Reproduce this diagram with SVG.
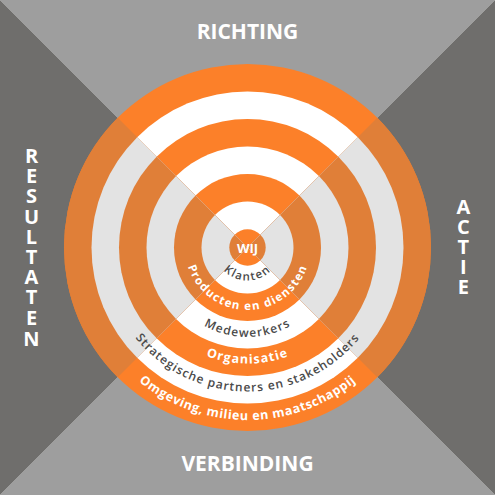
<svg xmlns="http://www.w3.org/2000/svg" width="495" height="495" viewBox="0 0 495 495">
<style>
.tb{fill:#9e9e9e}
.lr{fill:#6f6e6c}
.o{fill:#fc8029}
.w{fill:#ffffff}
.od{fill:#e07f38}
.wd{fill:#e3e3e3}
.big{font-family:'Open Sans','Liberation Sans',sans-serif;font-weight:700;fill:#ffffff;font-size:21px;text-anchor:middle}
.vert{font-family:'Open Sans','Liberation Sans',sans-serif;font-weight:700;fill:#ffffff;font-size:20px;text-anchor:middle}
.dk{font-family:'Open Sans','Liberation Sans',sans-serif;font-weight:600;fill:#4a4a4a;font-size:12px;letter-spacing:1.1px}
.wt{font-family:'Open Sans','Liberation Sans',sans-serif;font-weight:700;fill:#ffffff;font-size:12px;letter-spacing:1.1px}
</style>
<defs>
<clipPath id="clipLR">
<polygon points="0,0 247.5,247.5 0,495"/>
<polygon points="495,0 247.5,247.5 495,495"/>
</clipPath>
<path id="p1" d="M214.5,247.5 A33,33 0 0 0 280.5,247.5"/>
<path id="p2" d="M185,247.5 A62.5,62.5 0 0 0 310,247.5"/>
<path id="p3" d="M158,247.5 A89.5,89.5 0 0 0 337,247.5"/>
<path id="p4" d="M131.5,247.5 A116,116 0 0 0 363.5,247.5"/>
<path id="p5" d="M103.5,247.5 A144,144 0 0 0 391.5,247.5"/>
<path id="p6" d="M75,247.5 A172.5,172.5 0 0 0 420,247.5"/>
</defs>
<g id="background">
<polygon class="tb" points="0,0 495,0 247.5,247.5"/>
<polygon class="tb" points="0,495 495,495 247.5,247.5"/>
<polygon class="lr" points="0,0 0,495 247.5,247.5"/>
<polygon class="lr" points="495,0 495,495 247.5,247.5"/>
</g>
<g id="rings">
<circle class="o" cx="247.5" cy="247.5" r="183.5"/>
<circle class="w" cx="247.5" cy="247.5" r="156"/>
<circle class="o" cx="247.5" cy="247.5" r="128.5"/>
<circle class="w" cx="247.5" cy="247.5" r="101"/>
<circle class="o" cx="247.5" cy="247.5" r="73.5"/>
<circle class="w" cx="247.5" cy="247.5" r="46"/>
<circle class="o" cx="247.5" cy="247.5" r="18.2"/>
</g>
<g id="rings-shaded" clip-path="url(#clipLR)">
<circle class="od" cx="247.5" cy="247.5" r="183.5"/>
<circle class="wd" cx="247.5" cy="247.5" r="156"/>
<circle class="od" cx="247.5" cy="247.5" r="128.5"/>
<circle class="wd" cx="247.5" cy="247.5" r="101"/>
<circle class="od" cx="247.5" cy="247.5" r="73.5"/>
<circle class="wd" cx="247.5" cy="247.5" r="46"/>
<circle class="od" cx="247.5" cy="247.5" r="18.2"/>
</g>
<g id="node-wij"><text class="big" x="247.5" y="252.7" style="font-size:13px">WIJ</text></g>
<g id="node-klanten"><text class="dk" style="font-size:11.5px;letter-spacing:1.5px"><textPath href="#p1" startOffset="50%" text-anchor="middle">Klanten</textPath></text></g>
<g id="node-producten"><text class="wt" style="font-size:11.5px;letter-spacing:1.3px"><textPath href="#p2" startOffset="50%" text-anchor="middle">Producten en diensten</textPath></text></g>
<g id="node-medewerkers"><text class="dk"><textPath href="#p3" startOffset="50%" text-anchor="middle">Medewerkers</textPath></text></g>
<g id="node-organisatie"><text class="wt" style="font-size:12.5px"><textPath href="#p4" startOffset="50%" text-anchor="middle">Organisatie</textPath></text></g>
<g id="node-strategische"><text class="dk" style="letter-spacing:1px"><textPath href="#p5" startOffset="50%" text-anchor="middle">Strategische partners en stakeholders</textPath></text></g>
<g id="node-omgeving"><text class="wt" style="font-size:12.5px;letter-spacing:0.6px"><textPath href="#p6" startOffset="50%" text-anchor="middle">Omgeving, milieu en maatschappij</textPath></text></g>
<g id="node-richting"><text class="big" x="247.5" y="39.3">RICHTING</text></g>
<g id="node-verbinding"><text class="big" x="247.5" y="471">VERBINDING</text></g>
<g id="node-resultaten">
<text class="vert" x="31.5" y="163">R</text>
<text class="vert" x="31.5" y="183.2">E</text>
<text class="vert" x="31.5" y="203.4">S</text>
<text class="vert" x="31.5" y="223.6">U</text>
<text class="vert" x="31.5" y="243.8">L</text>
<text class="vert" x="31.5" y="264">T</text>
<text class="vert" x="31.5" y="284.2">A</text>
<text class="vert" x="31.5" y="304.4">T</text>
<text class="vert" x="31.5" y="324.6">E</text>
<text class="vert" x="31.5" y="345.5">N</text>
</g>
<g id="node-actie">
<text class="vert" x="463.3" y="214">A</text>
<text class="vert" x="463.3" y="234">C</text>
<text class="vert" x="463.3" y="254">T</text>
<text class="vert" x="463.3" y="274">I</text>
<text class="vert" x="463.3" y="294">E</text>
</g>
<g id="connectors"/>
</svg>
